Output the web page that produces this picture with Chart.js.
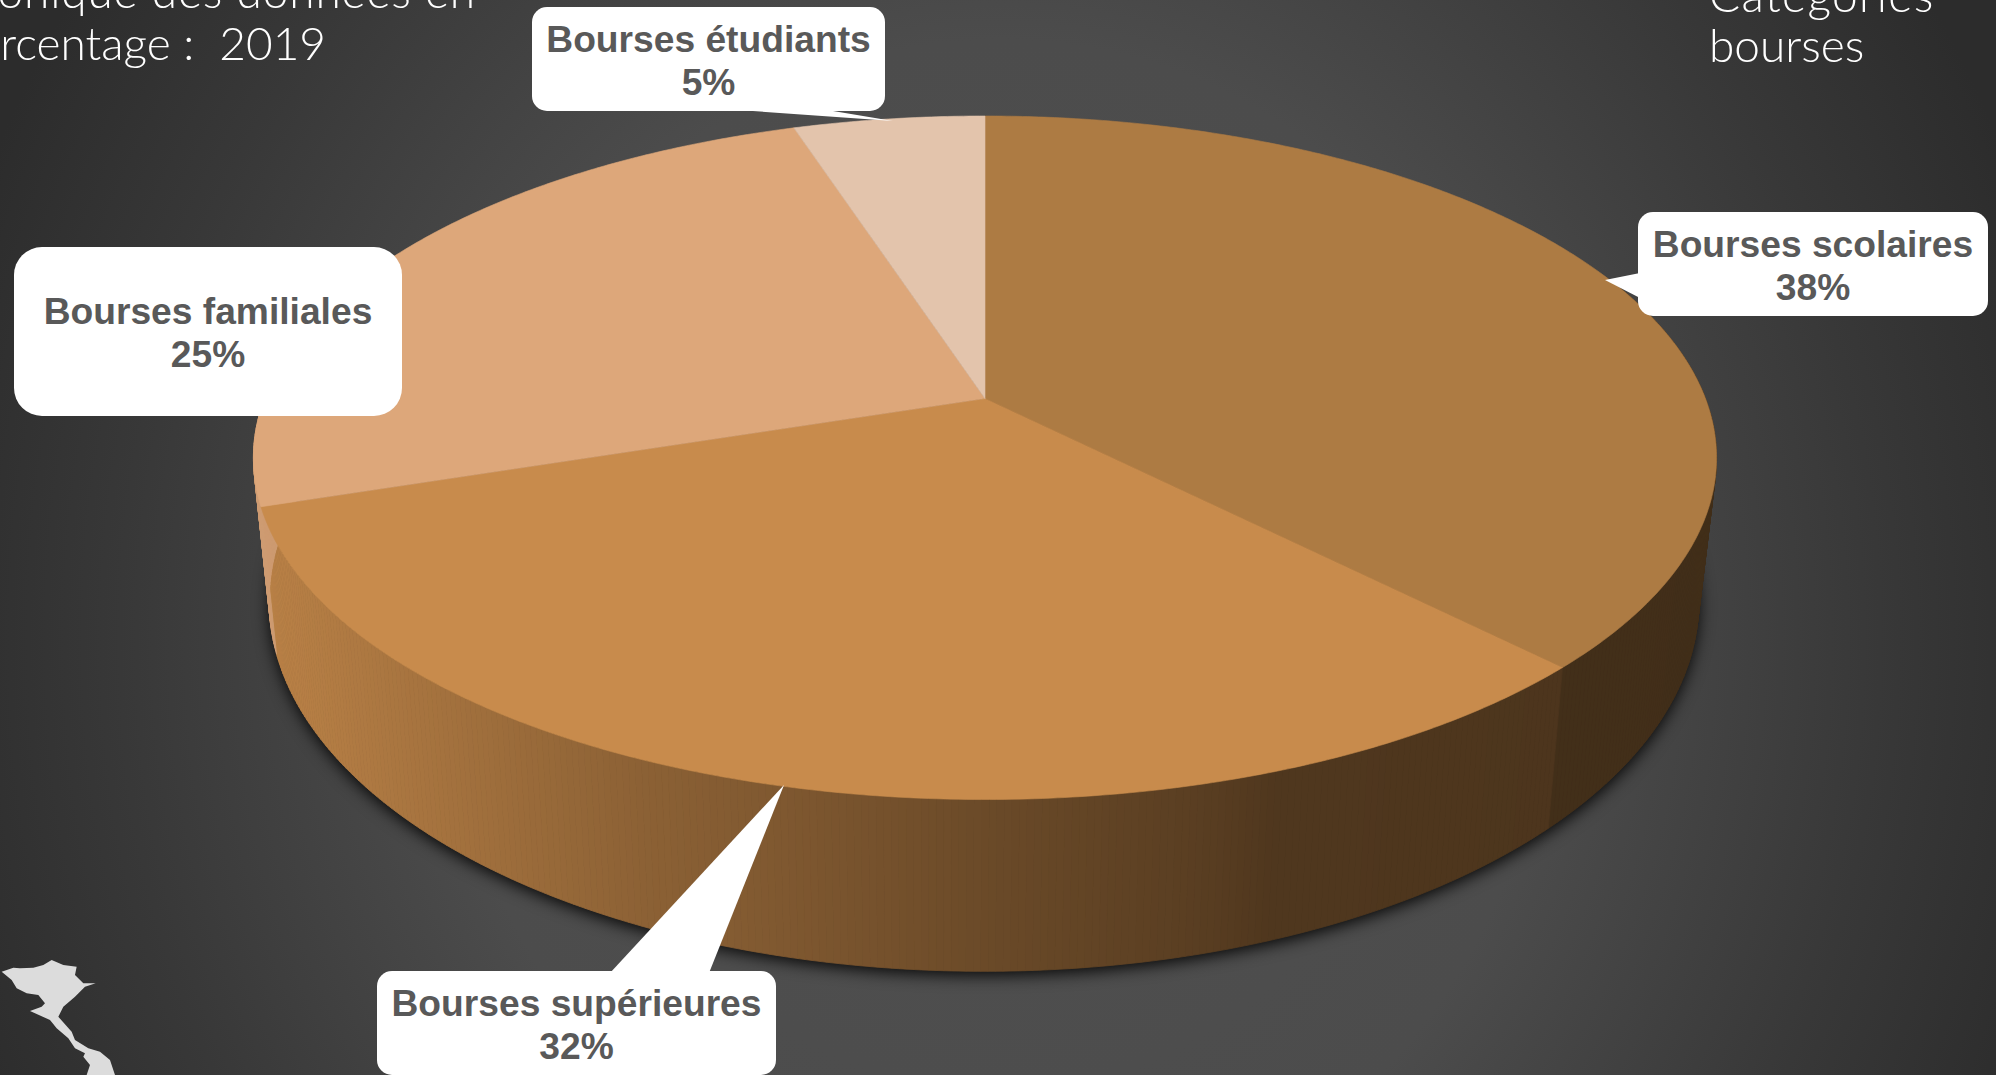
<!DOCTYPE html>
<html lang="fr"><head><meta charset="utf-8"><title>Catégories bourses</title>
<script src="https://cdn.jsdelivr.net/npm/chart.js@4/dist/chart.umd.min.js"></script>
<style>
html,body{margin:0;padding:0;width:1996px;height:1075px;overflow:hidden;background:#333}
#stage{position:relative;width:1996px;height:1075px;overflow:hidden;
 background:radial-gradient(ellipse 1100px 1200px at 1000px 640px,#505050 0,#4c4c4c 50%,#383838 80%,#2c2c2c 100%)}
canvas#c{position:absolute;left:0;top:0}
svg{position:absolute;left:0;top:0}
.t{position:absolute;white-space:nowrap;color:#fff;font:300 46px/53px Lato,sans-serif}
.box{position:absolute;background:#fff;color:#595959;font:bold 37.2px/43px "Liberation Sans",Arial,sans-serif;text-align:center;box-sizing:border-box;padding-top:3px;display:flex;flex-direction:column;justify-content:center}
</style></head><body>
<div id="stage">
<canvas id="c" width="1996" height="1075"></canvas>
<svg width="1996" height="1075" viewBox="0 0 1996 1075">
 <g fill="#fff">
  <polygon points="738,110 827,110 893,121"/>
  <polygon points="1640,273 1605,280 1640,298"/>
  <polygon points="610,973 709,973 784,785"/>
 </g>
 <polygon fill="#dcdcdc" transform="translate(0 925) scale(.3333)" points="5,140 40,128 60,130 100,128 130,120 155,105 190,120 230,125 225,150 250,175 287,175 255,185 225,215 190,245 175,275 215,320 225,345 265,370 300,380 330,405 345,450 260,450 270,420 250,395 255,385 225,370 205,340 170,310 150,285 90,258 125,245 135,235 115,210 80,205 50,190 35,165"/>
</svg>
<div class="t" style="right:1520px;top:-36px;letter-spacing:.85px">Chronique des données en</div>
<div class="t" style="right:1670px;top:16px">pourcentage :&nbsp; 2019</div>
<div class="t" style="left:1709px;top:-32px;letter-spacing:1.4px">Catégories</div>
<div class="t" style="left:1709px;top:18px">bourses</div>
</div>
<script>
const categories = ["Bourses scolaires","Bourses supérieures","Bourses familiales","Bourses étudiants"];
const values = [37.6,32.4,25,5];
const topColors = ["#AD7B43","#C88B4C","#DDA77A","#E3C4AC"];
const boxStyles = [
 {l:1638,t:212,w:350,h:104,r:15},
 {l:377,t:971,w:399,h:104,r:15},
 {l:14,t:247,w:388,h:169,r:28},
 {l:532,t:7,w:353,h:104,r:15}
];
// perspective of the top and bottom rims of the pie
const topRim = {cx:985,cy:398.5,a:720.5,b:331.5,k:-0.1734};
const lowRim = {cx:984,cy:537,a:704,b:359,k:-0.1734};
const shadeStops = [[-1,.93],[-.82,.85],[-.68,.79],[-.47,.70],[-.26,.63],[.02,.53],[.3,.45],[.4,.40],[1,.38]];

function project(r,th){const x=Math.cos(th),y=Math.sin(th),d=1+r.k*y;return [r.cx+r.a*x/d,r.cy+r.b*y/d];}
function shade(u){for(let i=1;i<shadeStops.length;i++){const[a,b]=shadeStops[i-1],[c,d]=shadeStops[i];if(u<=c)return b+(d-b)*(u-a)/(c-a);}return .38;}
function mul(hex,f){const n=parseInt(hex.slice(1),16);return `rgb(${(n>>16)*f|0},${((n>>8)&255)*f|0},${(n&255)*f|0})`;}

const pie3d={id:'pie3d',beforeDatasetsDraw(chart){
 const ctx=chart.ctx,arcs=chart.getDatasetMeta(0).data,cols=chart.data.datasets[0].backgroundColor;
 // soft shadow under the lower rim
 ctx.save();ctx.shadowColor='rgba(0,0,0,.9)';ctx.shadowBlur=16;ctx.shadowOffsetY=4;ctx.fillStyle='#222';ctx.beginPath();
 for(let i=0;i<=360;i++){const p=project(lowRim,i*Math.PI/180);i?ctx.lineTo(p[0],p[1]):ctx.moveTo(p[0],p[1]);}
 ctx.closePath();ctx.fill();ctx.restore();
 // walls
 arcs.forEach((el,i)=>{const {startAngle:s,endAngle:e}=el.getProps(['startAngle','endAngle'],true);
  const n=Math.ceil((e-s)/(Math.PI/360));
  for(let j=0;j<n;j++){const a=s+(e-s)*j/n,b=s+(e-s)*(j+1)/n;
   if(Math.sin((a+b)/2)<-.35)continue;
   const p1=project(topRim,a),p2=project(topRim,b),p3=project(lowRim,b),p4=project(lowRim,a);
   const u=((p1[0]+p3[0])/2-984)/715;
   const f=i===0?Math.min(.40,shade(u)):shade(u);
   ctx.fillStyle=ctx.strokeStyle=mul(cols[i],f);ctx.lineWidth=.8;
   ctx.beginPath();ctx.moveTo(...p1);ctx.lineTo(...p2);ctx.lineTo(...p3);ctx.lineTo(...p4);ctx.closePath();ctx.fill();ctx.stroke();}
 });
 // top face
 arcs.forEach((el,i)=>{const {startAngle:s,endAngle:e}=el.getProps(['startAngle','endAngle'],true);
  const n=Math.ceil((e-s)/(Math.PI/360));
  ctx.fillStyle=ctx.strokeStyle=cols[i];ctx.lineWidth=.6;ctx.beginPath();ctx.moveTo(topRim.cx,topRim.cy);
  for(let j=0;j<=n;j++)ctx.lineTo(...project(topRim,s+(e-s)*j/n));
  ctx.closePath();ctx.fill();ctx.stroke();
 });
 return false;
}};

new Chart(document.getElementById('c'),{type:'pie',
 data:{labels:categories,datasets:[{data:values,backgroundColor:topColors}]},
 options:{responsive:false,animation:false,plugins:{legend:{display:false},tooltip:{enabled:false}}},
 plugins:[pie3d]});

const stage=document.getElementById('stage');
categories.forEach((c,i)=>{const b=boxStyles[i],d=document.createElement('div');d.className='box';
 d.style.cssText=`left:${b.l}px;top:${b.t}px;width:${b.w}px;height:${b.h}px;border-radius:${b.r}px`;
 d.innerHTML=`<div>${c}</div><div>${Math.round(values[i])}%</div>`;stage.appendChild(d);});
</script>
</body></html>
